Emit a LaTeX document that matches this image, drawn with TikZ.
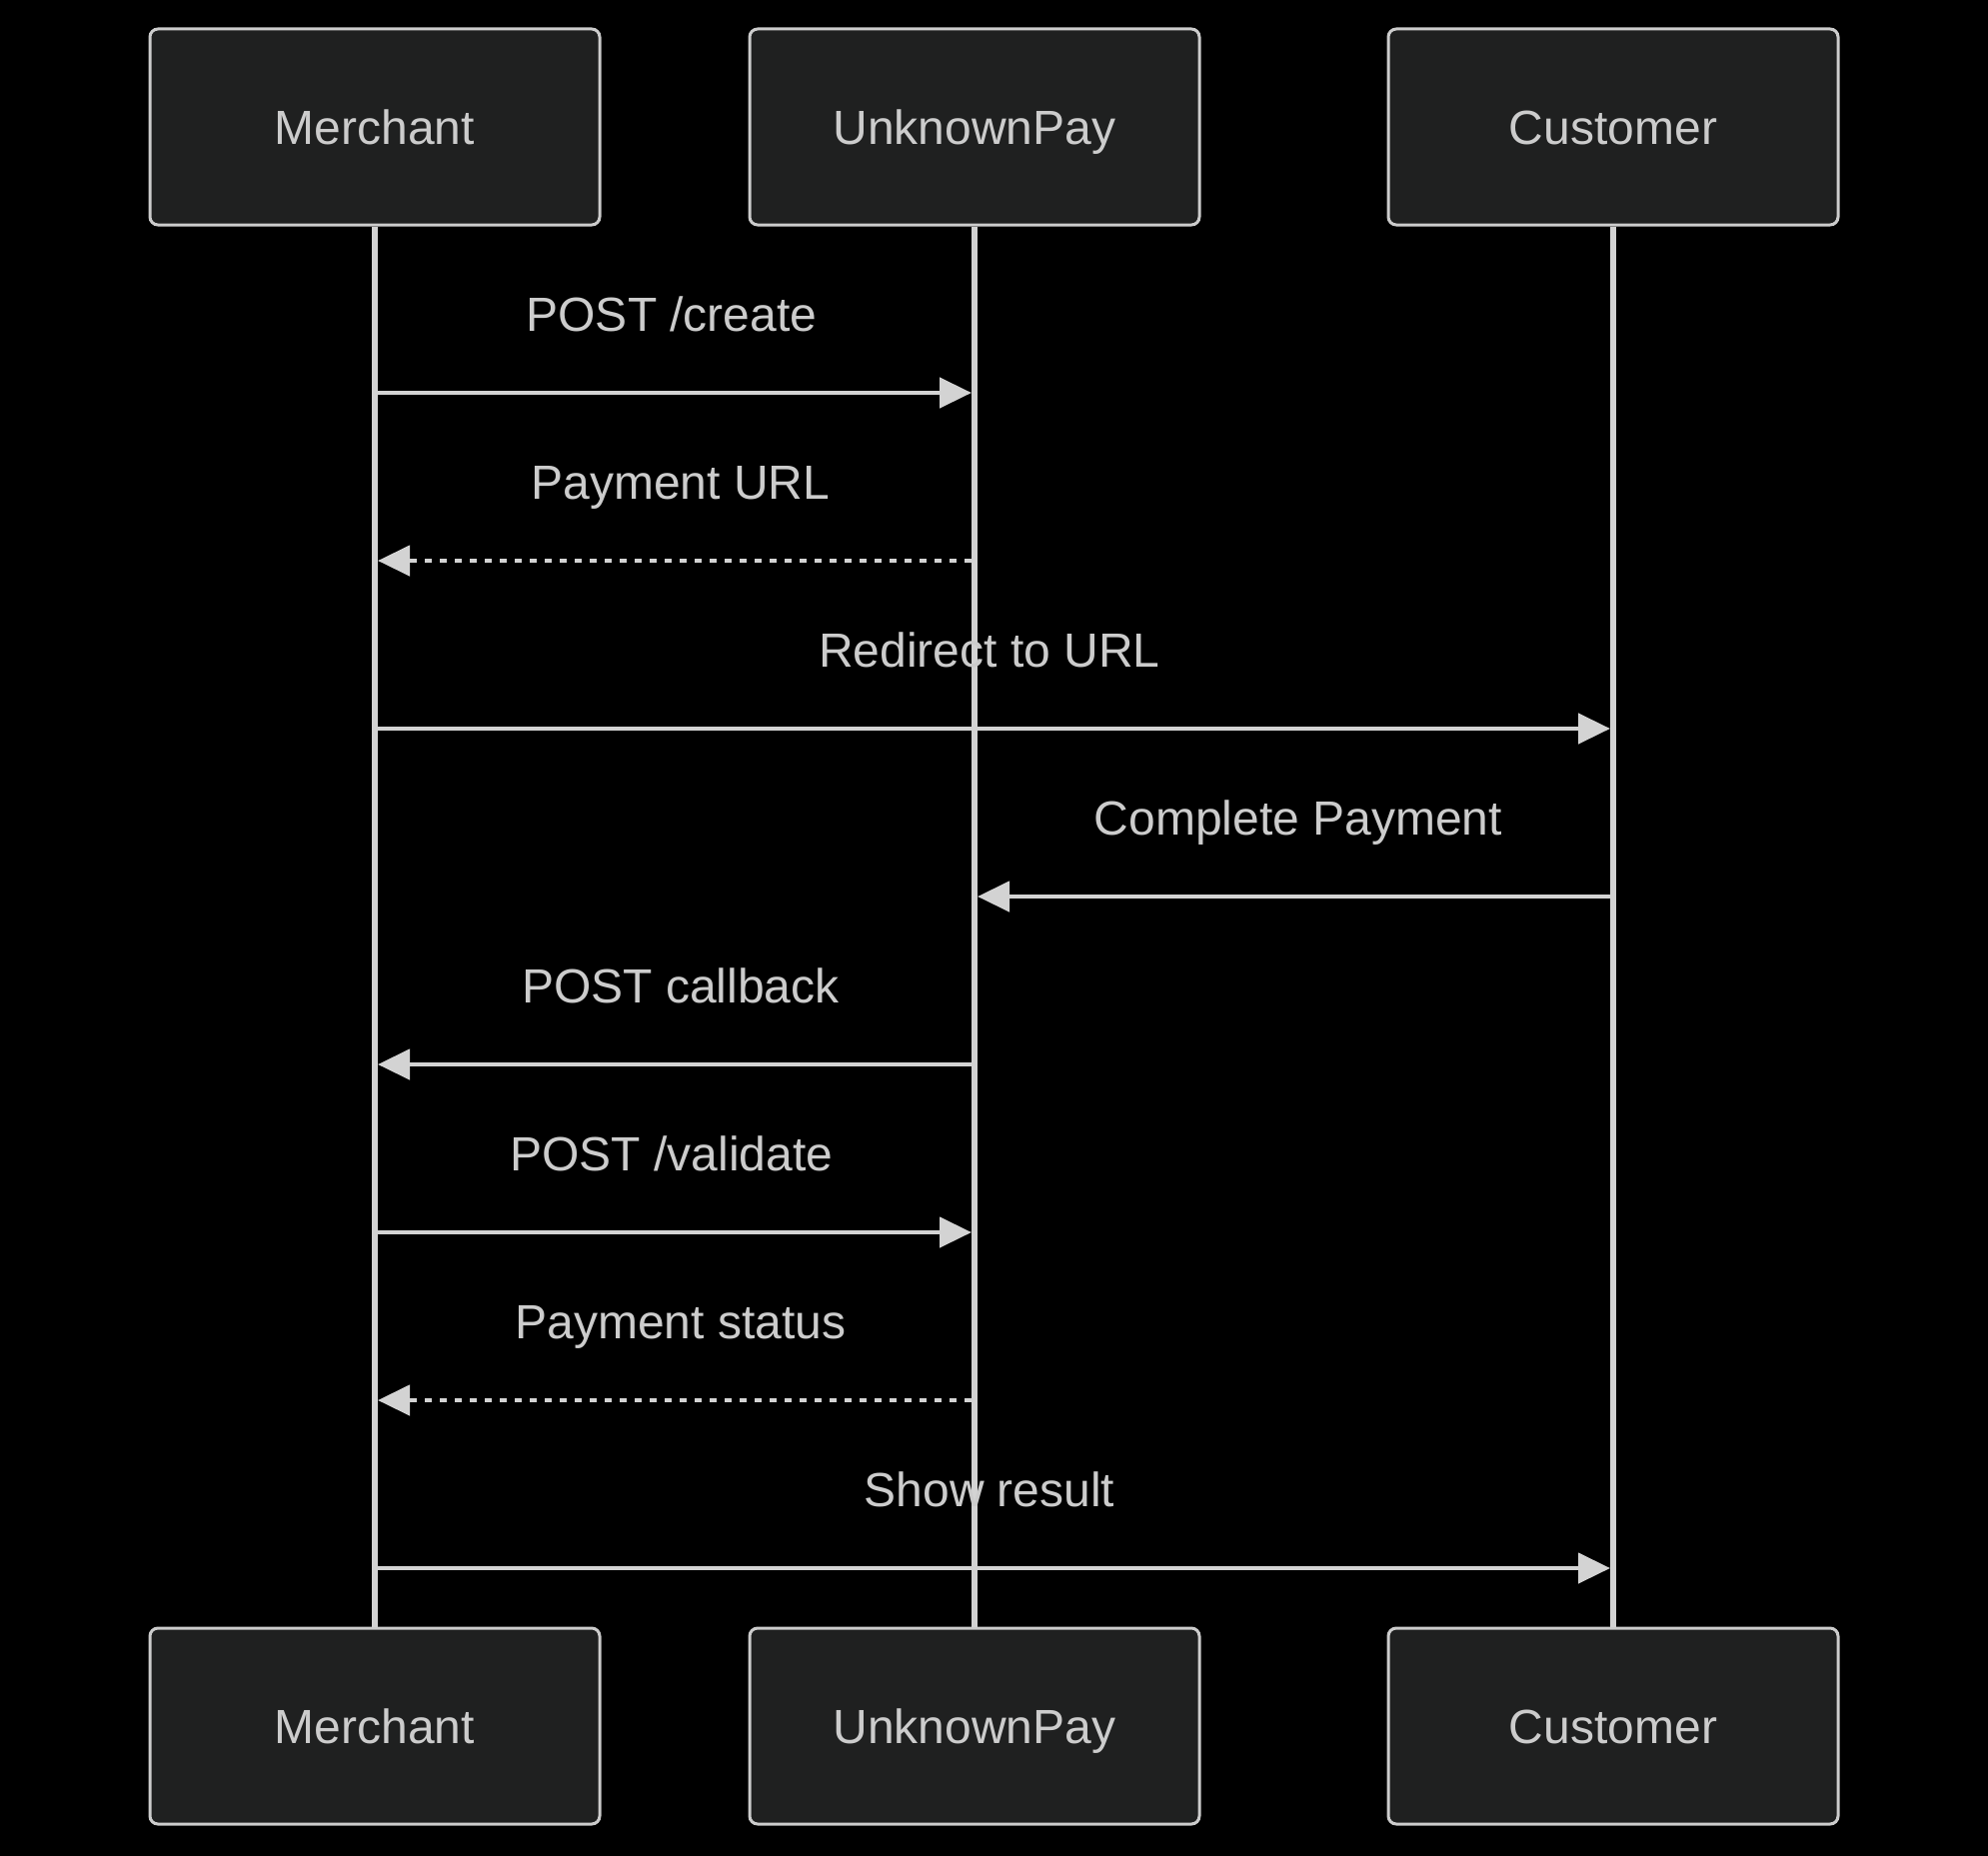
\documentclass[tikz,border=0pt]{standalone}
\usepackage{fontspec}
\setmainfont{Liberation Sans}
\usetikzlibrary{arrows.meta}
\definecolor{bgc}{HTML}{000000}
\definecolor{boxfill}{HTML}{1F2020}
\definecolor{boxline}{HTML}{CCCCCC}
\definecolor{txt}{HTML}{CCCCCC}
\definecolor{sig}{HTML}{D3D3D3}
\tikzset{
  actor/.style={draw=boxline, fill=boxfill, line width=3pt, rounded corners=8pt,
    minimum width=450pt, minimum height=196pt, inner sep=0pt, text=txt,
    text height=34.4pt, text depth=0pt,
    font=\fontsize{48}{58}\selectfont},
  life/.style={draw=sig, line width=5.5pt},
  msg/.style={draw=sig, line width=4.5pt, -{Triangle[length=32pt,width=30pt,fill=sig]}},
  reply/.style={msg, dash pattern=on 7pt off 8pt},
  lbl/.style={anchor=base, text=txt, inner sep=0pt, font=\fontsize{48}{58}\selectfont}
}
\begin{document}
\begin{tikzpicture}[x=1pt,y=-1pt]
\fill[bgc] (0,0) rectangle (1989,1857);
\useasboundingbox (0,0) rectangle (1989,1857);
% actors
\node[actor] (mt) at (375,127) {Merchant};
\node[actor] (ut) at (975,127) {UnknownPay};
\node[actor] (ct) at (1614,127) {Customer};
\node[actor] (mb) at (375,1727) {Merchant};
\node[actor] (ub) at (975,1727) {UnknownPay};
\node[actor] (cb) at (1614,1727) {Customer};
% lifelines
\draw[life] (mt.south) -- (mb.north);
\draw[life] (ut.south) -- (ub.north);
\draw[life] (ct.south) -- (cb.north);
% message anchor points
\foreach \i/\y in {1/393,2/561,3/729,4/897,5/1065,6/1233,7/1401,8/1569}{
  \coordinate (m\i) at (378,\y);
  \coordinate (u\i) at (972,\y);
  \coordinate (uL\i) at (978,\y);
  \coordinate (c\i) at (1611,\y);
}
% messages
\draw[msg] (m1) -- (u1);
\node[lbl] (l1) at (672,331.5) {POST /create};
\draw[reply] (u2) -- (m2);
\node[lbl] (l2) at (681,499.5) {Payment URL};
\draw[msg] (m3) -- (c3);
\node[lbl] (l3) at (990,667.5) {Redirect to URL};
\draw[msg] (c4) -- (uL4);
\node[lbl] (l4) at (1299,835.5) {Complete Payment};
\draw[msg] (u5) -- (m5);
\node[lbl] (l5) at (681,1003.5) {POST callback};
\draw[msg] (m6) -- (u6);
\node[lbl] (l6) at (672,1171.5) {POST /validate};
\draw[reply] (u7) -- (m7);
\node[lbl] (l7) at (681,1339.5) {Payment status};
\draw[msg] (m8) -- (c8);
\node[lbl] (l8) at (990,1507.5) {Show result};
\end{tikzpicture}
\end{document}
